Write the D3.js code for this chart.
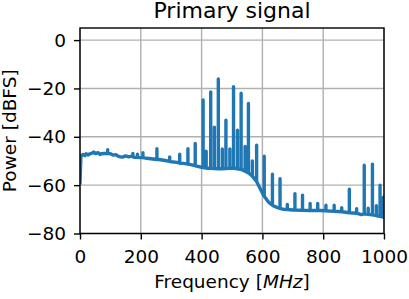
<!DOCTYPE html>
<html>
<head>
<meta charset="utf-8">
<script src="https://cdn.jsdelivr.net/npm/d3@7"></script>
<style>
body { margin: 0; background: #fff; }
text { font-family: "DejaVu Sans", sans-serif; fill: #000; }
</style>
</head>
<body>
<div id="chart"></div>
<script>
const width = 409
const height = 299
const margin = {
    top: 28,
    bottom: 65.5,
    left: 80,
    right: 25
}

// noise floor
const floorFreq = [0, 3, 10, 16, 20, 26, 30, 40, 45, 50, 60, 66, 70, 80, 100, 110, 118, 125, 133, 140, 150, 160, 170, 180, 200, 220, 240, 260, 280, 300, 320, 340, 360, 380, 400, 420, 440, 460, 480, 500, 520, 540, 555, 570, 585, 595, 605, 620, 635, 650, 670, 700, 730, 760, 790, 820, 850, 880, 910, 925, 940, 960, 980, 1000]
const floorLevel = [-59, -48, -47.3, -47.8, -47.0, -47.5, -47.2, -46.8, -46.3, -46.9, -46.6, -47.3, -47.0, -46.9, -47.0, -47.6, -47.4, -48.0, -48.3, -48.4, -47.9, -48.3, -48.0, -48.5, -48.6, -48.9, -49.2, -49.4, -49.8, -50.3, -50.6, -51.0, -51.4, -52.0, -52.6, -53.0, -53.1, -53.2, -53.1, -53.0, -53.3, -54.0, -55.0, -56.8, -59.5, -62.0, -64.5, -67.0, -68.5, -69.3, -70.0, -70.3, -70.4, -70.5, -70.5, -70.7, -70.9, -71.3, -71.6, -72.2, -72.0, -72.3, -72.8, -73.3]

// spurs: frequency, peak, level at the foot
const spurFreq = [91, 174, 189, 207, 253, 295, 328, 355, 379, 405, 415, 430, 442, 455, 468, 480, 493, 505, 518, 530, 543, 554, 567, 581, 606, 633, 658, 682, 707, 732, 757, 782, 809, 836, 861, 886, 910, 935, 948, 962, 975, 987, 998]
const spurPeak = [-45.3, -46.9, -47.2, -46.6, -44.9, -48.3, -47.2, -44.9, -42.8, -24.8, -46, -21.4, -36, -16.1, -45, -33.1, -45, -19.3, -37.3, -22.0, -44, -26.2, -50, -43.5, -48.0, -55.5, -57.3, -68.0, -63.5, -64.2, -67.6, -67.6, -68.3, -68.3, -69.3, -61.7, -69.7, -51.8, -69.5, -51.3, -68.5, -60.0, -65.0]
const spurBase = [-46.8, -48.3, -48.5, -48.6, -49.4, -50.2, -50.9, -51.3, -51.9, -52.7, -52.9, -53.0, -53.1, -53.2, -53.2, -53.1, -53.0, -53.0, -53.2, -53.5, -54.2, -55.0, -56.3, -58.5, -64.6, -68.3, -69.6, -70.1, -70.3, -70.4, -70.5, -70.5, -70.6, -70.8, -71.0, -71.4, -71.6, -71.9, -72.1, -72.3, -72.6, -72.9, -73.2]

const xTicks = [0, 200, 400, 600, 800, 1000]
const yTicks = [0, -20, -40, -60, -80]

let points = floorFreq.map((f, i) => [f, floorLevel[i], 0])
spurFreq.forEach((f, i) => {
    points.push([f, spurBase[i], 1])
    points.push([f, spurPeak[i], 2])
    points.push([f, spurBase[i], 3])
})
points.sort((a, b) => a[0] - b[0] || a[2] - b[2])

const svg = d3.select("#chart").append("svg").attr("height", height).attr("width", width)

const x = d3.scaleLinear().domain([0, 1000]).range([margin.left, width - margin.right])
const y = d3.scaleLinear().domain([-80, 5]).range([height - margin.bottom, margin.top])

svg.append("clipPath").attr("id", "plotClip")
    .append("rect")
    .attr("x", margin.left).attr("y", margin.top)
    .attr("width", width - margin.left - margin.right)
    .attr("height", height - margin.top - margin.bottom)

// grid
const grid = svg.append("g").attr("id", "grid")
grid.selectAll(".vgrid").data(xTicks).enter().append("line")
    .attr("x1", d => x(d)).attr("x2", d => x(d))
    .attr("y1", margin.top).attr("y2", height - margin.bottom)
    .attr("stroke", "#b0b0b0").attr("stroke-width", 1.4)
grid.selectAll(".hgrid").data(yTicks).enter().append("line")
    .attr("y1", d => y(d)).attr("y2", d => y(d))
    .attr("x1", margin.left).attr("x2", width - margin.right)
    .attr("stroke", "#b0b0b0").attr("stroke-width", 1.4)

// spectrum
const line = d3.line().x(d => x(d[0])).y(d => y(d[1]))
svg.append("path")
    .datum(points)
    .attr("clip-path", "url(#plotClip)")
    .attr("d", line)
    .attr("fill", "none")
    .attr("stroke", "#1f77b4")
    .attr("stroke-width", 3.4)
    .attr("stroke-linejoin", "round")
    .attr("stroke-linecap", "square")

// axes
const xAxis = d3.axisBottom(x).tickValues(xTicks).tickSize(6).tickPadding(10).tickFormat(d3.format("d"))
const yAxis = d3.axisLeft(y).tickValues(yTicks).tickSize(6).tickPadding(8).tickFormat(d3.format("d"))

const xAxisGroup = svg.append("g").attr("transform", `translate(0, ${height - margin.bottom})`).call(xAxis)
const yAxisGroup = svg.append("g").attr("transform", `translate(${margin.left}, 0)`).call(yAxis)
;[xAxisGroup, yAxisGroup].forEach(g => {
    g.select(".domain").remove()
    g.selectAll(".tick line").attr("stroke-width", 1.4)
    g.selectAll("text").attr("font-size", 18.5).attr("font-family", "DejaVu Sans")
})

// frame
svg.append("rect")
    .attr("x", margin.left).attr("y", margin.top)
    .attr("width", width - margin.left - margin.right)
    .attr("height", height - margin.top - margin.bottom)
    .attr("fill", "none").attr("stroke", "#000").attr("stroke-width", 1.4)

// labels
svg.append("text")
    .attr("x", (margin.left + width - margin.right) / 2).attr("y", 17.5)
    .attr("text-anchor", "middle").attr("font-size", 22)
    .text("Primary signal")

const xl = svg.append("text")
    .attr("x", (margin.left + width - margin.right) / 2).attr("y", 287.5)
    .attr("text-anchor", "middle").attr("font-size", 18.5)
xl.append("tspan").text("Frequency [")
xl.append("tspan").attr("font-style", "italic").text("MHz")
xl.append("tspan").text("]")

svg.append("text")
    .attr("transform", `translate(15.5, ${(margin.top + height - margin.bottom) / 2}) rotate(-90)`)
    .attr("text-anchor", "middle").attr("font-size", 18.5)
    .text("Power [dBFS]")
</script>
</body>
</html>
